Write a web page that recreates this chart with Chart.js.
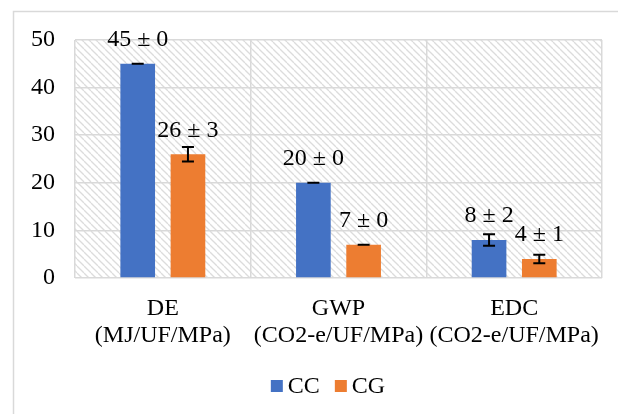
<!DOCTYPE html>
<html>
<head>
<meta charset="utf-8">
<script src="https://cdn.jsdelivr.net/npm/chart.js@4/dist/chart.umd.min.js"></script>
<style>
  html, body { margin: 0; padding: 0; background: #ffffff; }
  #wrap { width: 618px; height: 414px; }
</style>
</head>
<body>
<div id="wrap"><canvas id="c" width="618" height="414"></canvas></div>
<script>
// Indicators and their units
const categories = [["DE", "(MJ/UF/MPa)"], ["GWP", "(CO2-e/UF/MPa)"], ["EDC", "(CO2-e/UF/MPa)"]];
const seriesNames = ["CC", "CG"];

// Mean values
const valuesCC = [45, 20, 8];
const valuesCG = [26, 7, 4];

// Standard deviations printed in the value labels
const sdCC = [0, 0, 2];
const sdCG = [3, 0, 1];

// Error whisker half-lengths
const whiskerCC = [0, 0, 1.2];
const whiskerCG = [1.5, 0, 0.9];

const yTicks = [0, 10, 20, 30, 40, 50];

const FONT = "'Liberation Serif', 'Times New Roman', serif";
const GRID = '#d9d9d9';

// Diagonal hatch used for the plot background
function makeHatch() {
  const t = 7;
  const c = document.createElement('canvas');
  c.width = t; c.height = t;
  const g = c.getContext('2d');
  g.fillStyle = '#ffffff';
  g.fillRect(0, 0, t, t);
  g.strokeStyle = '#dcdcdc';
  g.lineWidth = 1.3;
  for (const off of [-t, 0, t]) {
    g.beginPath();
    g.moveTo(0, off);
    g.lineTo(t, t + off);
    g.stroke();
  }
  return c;
}

const hatchBackground = {
  id: 'hatchBackground',
  beforeDraw(chart) {
    const { ctx, chartArea: a } = chart;
    ctx.save();
    // outer frame
    ctx.strokeStyle = GRID;
    ctx.lineWidth = 1.5;
    ctx.strokeRect(13.5, 11.5, 610, 420);
    ctx.fillStyle = ctx.createPattern(makeHatch(), 'repeat');
    ctx.fillRect(a.left, a.top, a.right - a.left, a.bottom - a.top);
    ctx.restore();
  }
};

const whiskersAndLabels = {
  id: 'whiskersAndLabels',
  afterDatasetsDraw(chart) {
    const { ctx } = chart;
    const y = chart.scales.y;
    const whiskers = [whiskerCC, whiskerCG];
    const sds = [sdCC, sdCG];
    chart.data.datasets.forEach((ds, di) => {
      const meta = chart.getDatasetMeta(di);
      meta.data.forEach((bar, i) => {
        const v = ds.data[i];
        const e = whiskers[di][i];
        const yHi = y.getPixelForValue(v + e);
        const yLo = y.getPixelForValue(v - e);
        const x = bar.x;
        ctx.save();
        ctx.strokeStyle = '#000000';
        ctx.lineWidth = 2;
        ctx.beginPath();
        ctx.moveTo(x, yHi); ctx.lineTo(x, yLo);
        ctx.moveTo(x - 6, yHi); ctx.lineTo(x + 6, yHi);
        ctx.moveTo(x - 6, yLo); ctx.lineTo(x + 6, yLo);
        ctx.stroke();
        ctx.fillStyle = '#000000';
        ctx.font = '24px ' + FONT;
        ctx.textAlign = 'center';
        ctx.textBaseline = 'middle';
        ctx.fillText(v + ' \u00b1 ' + sds[di][i], x, bar.y - 24);
        ctx.restore();
      });
    });
  }
};

// Legend row under the axis: square swatch followed by the series name
const bottomLegend = {
  id: 'bottomLegend',
  afterDraw(chart) {
    const { ctx } = chart;
    const items = chart.data.datasets.map(ds => ({ text: ds.label, color: ds.backgroundColor }));
    ctx.save();
    ctx.font = '24px ' + FONT;
    ctx.textBaseline = 'middle';
    ctx.textAlign = 'left';
    const box = 12, gap = 5, between = 15;
    let total = 0;
    items.forEach((it, k) => {
      total += box + gap + ctx.measureText(it.text).width + (k < items.length - 1 ? between : 0);
    });
    let x = 328 - total / 2;
    const yc = 386;
    items.forEach(it => {
      ctx.fillStyle = it.color;
      ctx.fillRect(x, yc - box / 2, box, box);
      x += box + gap;
      ctx.fillStyle = '#000000';
      ctx.fillText(it.text, x, yc + 1);
      x += ctx.measureText(it.text).width + between;
    });
    ctx.restore();
  }
};

new Chart(document.getElementById('c'), {
  type: 'bar',
  data: {
    labels: categories,
    datasets: [
      { label: seriesNames[0], data: valuesCC, backgroundColor: '#4472c4' },
      { label: seriesNames[1], data: valuesCG, backgroundColor: '#ed7d31' }
    ]
  },
  options: {
    responsive: false,
    animation: false,
    devicePixelRatio: 1,
    layout: { padding: { left: 0, top: 40, right: 13, bottom: 54 } },
    datasets: { bar: { categoryPercentage: 0.572, barPercentage: 0.69 } },
    scales: {
      x: {
        grid: { color: GRID, lineWidth: 1.5, offset: true, drawTicks: false },
        border: { display: false },
        ticks: { color: '#000000', font: { family: FONT, size: 24, lineHeight: 1.125 }, padding: 17, maxRotation: 0, autoSkip: false },
        afterFit(s) { s.height = 82; }
      },
      y: {
        min: 0, max: 50,
        afterBuildTicks(s) { s.ticks = yTicks.map(v => ({ value: v })); },
        grid: { color: GRID, lineWidth: 1.5, drawTicks: false },
        border: { display: false },
        ticks: { color: '#000000', font: { family: FONT, size: 24 }, padding: 20 },
        afterFit(s) { s.width = 75; }
      }
    },
    plugins: {
      legend: { display: false },
      tooltip: { enabled: false }
    }
  },
  plugins: [hatchBackground, whiskersAndLabels, bottomLegend]
});
</script>
</body>
</html>
